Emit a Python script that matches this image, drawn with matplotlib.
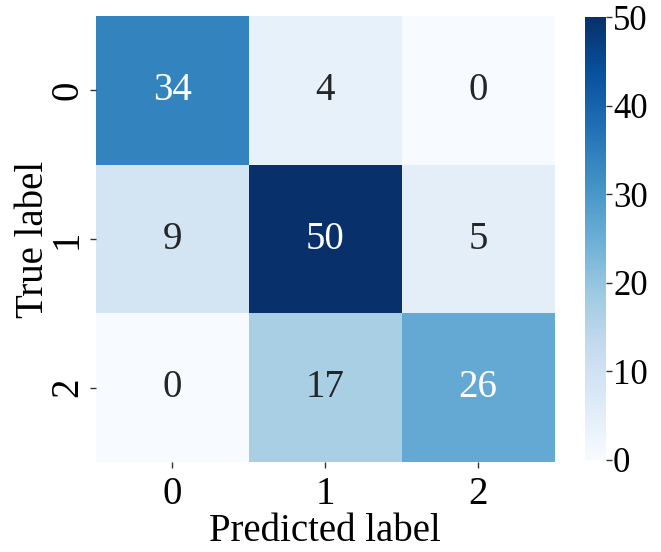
import numpy as np
import matplotlib
matplotlib.use('Agg')
import matplotlib.pyplot as plt
import seaborn as sns

# Matrice de confusion
labels = ['0', '1', '2']
cm = np.array([[34, 4, 0],
               [9, 50, 5],
               [0, 17, 26]])

plt.rcParams['font.family'] = ['Liberation Serif', 'DejaVu Serif']

fig = plt.figure(figsize=(6.61, 5.52), dpi=100)
ax = fig.add_axes([0.145, 0.163, 0.694, 0.808])
cax = fig.add_axes([0.885, 0.167, 0.032, 0.802])

sns.heatmap(cm, annot=True, fmt='d', cmap='Blues', vmin=0, vmax=50,
            xticklabels=labels, yticklabels=labels,
            ax=ax, cbar_ax=cax, annot_kws={'fontsize': 28})

ax.tick_params(axis='both', labelsize=28, length=4, width=1, color='#333333', pad=3)
ax.tick_params(axis='x', pad=6)
ax.set_yticklabels(labels, rotation=90, va='center')
ax.set_xticklabels(labels, rotation=0)
ax.set_xlabel('Predicted label', fontsize=28, labelpad=0)
ax.set_ylabel('True label', fontsize=28, labelpad=-2)

cax.tick_params(labelsize=25, length=4, width=1, color='#333333', pad=1)
cax.set_yticks(range(0, 51, 10))
for s in cax.spines.values():
    s.set_visible(False)

fig.savefig('out.png', dpi=100)
